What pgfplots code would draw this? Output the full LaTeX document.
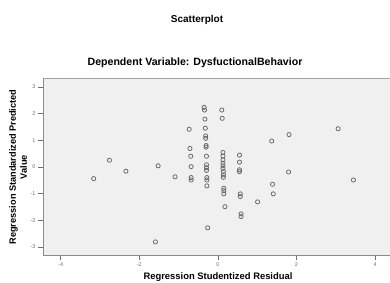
\documentclass[border=0pt]{standalone}
\usepackage{pgfplots}
\pgfplotsset{compat=1.18}
\usepackage{fontspec}
\setmainfont{Liberation Sans}
\definecolor{bgc}{HTML}{F0F0F0}
\definecolor{framec}{HTML}{8C8C8C}
\definecolor{markc}{HTML}{666666}
\definecolor{tickc}{HTML}{707070}
\begin{document}
\begin{tikzpicture}[x=1pt,y=1pt]
\begin{axis}[
  at={(43pt,27pt)}, anchor=south west,
  scale only axis, width=347pt, height=177pt,
  xmin=-4.45, xmax=4.38, ymin=-3.3, ymax=3.33,
  axis x line*=bottom, axis y line*=left,
  axis line style={framec, line width=0.9pt},
  axis background/.style={fill=bgc},
  xtick={-4,-2,0,2,4}, ytick={-3,-2,-1,0,1,2,3},
  tick align=outside, major tick length=5pt,
  tick style={tickc, line width=0.6pt},
  /pgf/number format/assume math mode=true,
  tick label style={font=\fontsize{5.5}{6}\selectfont, text=tickc},
  xticklabel style={yshift=1pt},
  yticklabel style={xshift=1pt},
  after end axis/.code={\draw[framec!80, line width=0.9pt] (rel axis cs:0,1) -- (rel axis cs:1,1);},
]
\addplot[only marks, mark=o, mark size=2.1pt, mark options={draw=markc, line width=0.75pt}] table {
x y
-3.16 -0.44
-2.76 0.25
-2.34 -0.16
-1.52 0.04
-1.59 -2.81
-1.09 -0.37
-0.73 1.41
-0.71 0.69
-0.69 0.40
-0.68 0.01
-0.68 -0.40
-0.68 -0.49
-0.35 2.23
-0.34 2.13
-0.33 1.79
-0.32 1.45
-0.31 1.16
-0.31 1.07
-0.30 0.80
-0.30 0.74
-0.29 0.40
-0.29 0.08
-0.29 -0.03
-0.29 -0.13
-0.28 -0.40
-0.28 -0.49
-0.28 -0.71
-0.26 -2.28
0.10 2.13
0.11 1.82
0.13 0.54
0.13 0.41
0.13 0.26
0.13 0.14
0.13 0.04
0.13 -0.06
0.14 -0.18
0.14 -0.30
0.14 -0.39
0.15 -0.80
0.15 -0.89
0.15 -1.01
0.18 -1.49
0.55 0.44
0.55 0.18
0.55 -0.11
0.55 -0.18
0.57 -1.01
0.57 -1.11
0.59 -1.76
0.59 -1.86
1.01 -1.31
1.37 0.97
1.39 -0.65
1.41 -1.01
1.81 1.21
1.80 -0.19
3.06 1.43
3.45 -0.49
};
\end{axis}
\node[font=\fontsize{10}{12}\selectfont\bfseries] at (197pt,262pt) {Scatterplot};
\node[font=\fontsize{10.6}{12}\selectfont\bfseries] at (195pt,219pt) {Dependent Variable: DysfuctionalBehavior};
\node[font=\fontsize{9.4}{11}\selectfont\bfseries] at (218pt,5pt) {Regression Studentized Residual};
\node[font=\fontsize{9.2}{11}\selectfont\bfseries, rotate=90, align=center] at (18pt,115pt) {Regression Standardized Predicted\\Value};
\pgfresetboundingbox
\useasboundingbox (0,0) rectangle (390pt,282pt);
\end{tikzpicture}
\end{document}
